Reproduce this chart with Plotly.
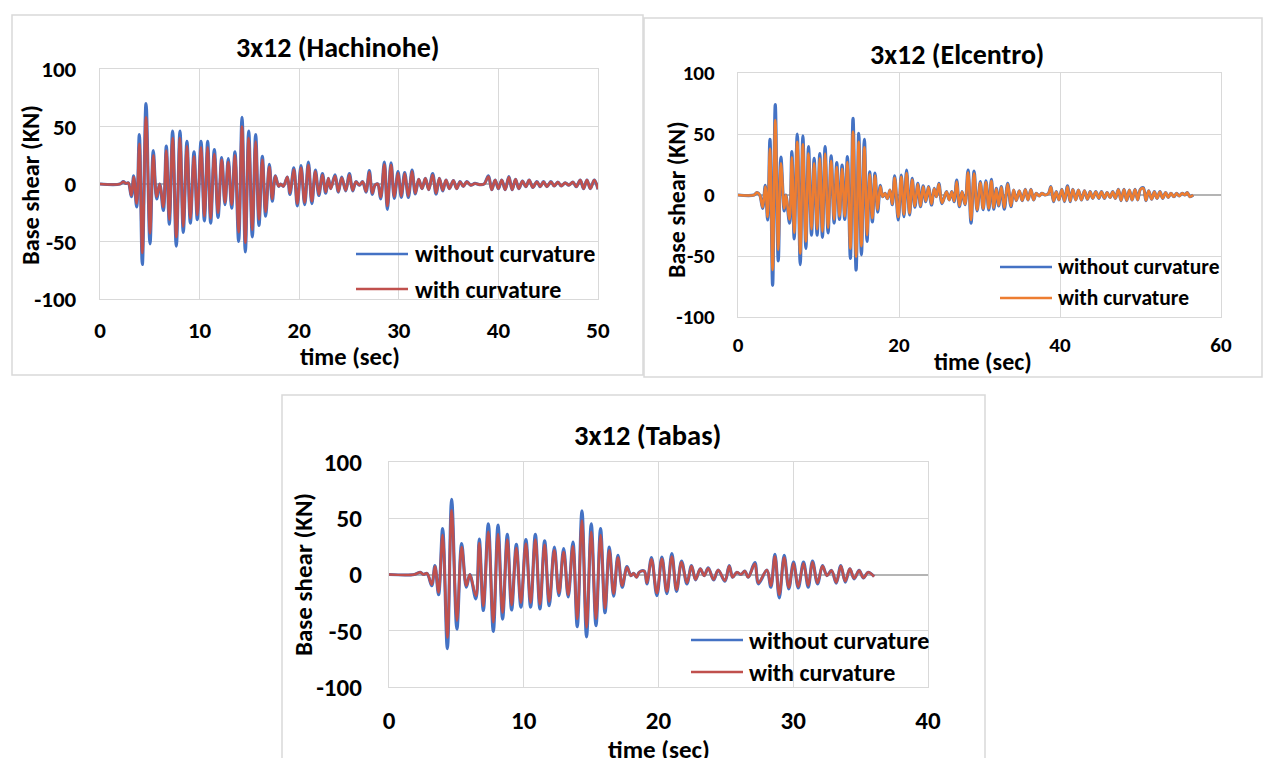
import plotly.graph_objects as go

W, H = 1263, 758

# ---- data (local peaks / troughs of each record) ----
hachinohe_time = [0, 2.0, 2.34, 2.6, 2.84, 3.15, 3.38, 3.68, 3.95, 4.25, 4.62, 5.02, 5.35, 5.69, 6.0,
                  6.36, 6.66, 6.96, 7.29, 7.66, 8.03, 8.36, 8.73, 9.07, 9.44, 9.77, 10.14, 10.48, 10.81,
                  11.11, 11.48, 11.85, 12.22, 12.55, 12.88, 13.22, 13.55, 13.92, 14.26, 14.59, 14.93,
                  15.29, 15.63, 15.96, 16.30, 16.63, 17.00, 17.30, 17.60, 17.94, 18.14, 18.41, 18.81,
                  19.07, 19.46, 19.81, 20.18, 20.55, 20.92, 21.27, 21.63, 21.97, 22.33, 22.66, 22.93,
                  23.16, 23.60, 23.93, 24.27, 24.67, 25.04, 25.37, 25.70, 26.04, 26.37, 26.71, 27.04,
                  27.34, 27.61, 27.88, 28.18, 28.55, 28.85, 29.22, 29.55, 29.92, 30.25, 30.59, 30.96,
                  31.33, 31.66, 32.00, 32.33, 32.67, 33.00, 33.40, 33.74, 34.07, 34.41, 34.74, 35.08,
                  35.48, 35.81, 36.15, 36.48, 36.82, 37.22, 37.65, 38.09, 38.56, 39.0, 39.33, 39.67,
                  40.00, 40.34, 40.68, 41.05, 41.38, 41.72, 42.05, 42.42, 42.76, 43.09, 43.46, 43.86,
                  44.20, 44.53, 44.87, 45.27, 45.60, 45.97, 46.31, 46.71, 47.08, 47.48, 47.82, 48.22,
                  48.55, 48.89, 49.23, 49.63, 50.0]
hachinohe_without = [0, 0, 2, 0.5, 1, -11, 7, -20, 43, -70, 70, -52, 29, -13, 0,
                     -23, 33, -35, 46, -54, 46, -42, 37, -34, 28, -31, 37, -32, 37,
                     -34, 30, -29, 23, -18, 22, -21, 28, -50, 58, -59, 46,
                     -46, 43, -36, 24, -28, 17, -15, 7, -2, 0, -2, 6,
                     -9, 14, -19, 16, -18, 19, -17, 12, -10, 9, -8, 5,
                     -4, 8, -7, 6, -6, 9, -6, 2, -1, 2, -7, 11.6,
                     -9, -1, 0, -13, 19, -22, 18.5, -12.5, 10.7, -11.6, 10, -11.6,
                     12, -8.7, 4, -4, 5, -5, 9, -8.7, 5, -6, 3.5, -4,
                     3, -4, 2, -2, 2, -1, 0.5, -0.5, 0, 7, -5, 3.5,
                     -4, 3.5, -5, 6.4, -5, 4, -4, 2.6, -2.3, 3.5, -3, 2,
                     -2.3, 2, -2.3, 2, -1.7, 1.7, -1.7, 1, -1, 1.7, -2.3, 3.5,
                     -4, 3.5, -4, 3.5, -4.6]
hachinohe_with = [0, 0, 2, 0.5, 1, -10, 6, -17, 35, -60, 58, -43, 25, -11, 0,
                  -20, 29, -31, 40, -46, 40, -37, 33, -30, 24, -27, 32, -28, 32,
                  -30, 26, -25, 21, -16, 19, -18, 25, -42, 50, -51, 40,
                  -40, 37, -31, 21, -24, 15, -13, 7, -2, 0, -2, 6,
                  -8, 12.5, -17, 14, -16, 16.5, -15, 11, -9, 8, -7, 5,
                  -4, 7, -6.5, 5.5, -5.5, 8, -5.5, 2, -1, 2, -6.5, 10.5,
                  -8, -1, 0, -11.5, 17, -19, 16.5, -11, 9.5, -10.5, 9, -10.5,
                  11, -8, 4, -4, 5, -5, 8, -8, 5, -5.5, 3.5, -4,
                  3, -4, 2, -2, 2, -1, 0.5, -0.5, 0, 6.5, -5, 3.5,
                  -4, 3.5, -5, 6, -5, 4, -4, 2.5, -2.3, 3.5, -3, 2,
                  -2.3, 2, -2.3, 2, -1.7, 1.7, -1.7, 1, -1, 1.7, -2.3, 3.5,
                  -4, 3.5, -4, 3.5, -4.5]

elcentro_time = [0, 2.0, 2.35, 2.7, 3.06, 3.39, 3.68, 3.97, 4.30, 4.63, 5.00, 5.33, 5.74, 5.95,
                 6.40, 6.69, 6.98, 7.36, 7.73, 8.06, 8.43, 8.76, 9.13, 9.46, 9.83, 10.16, 10.49,
                 10.82, 11.19, 11.57, 11.94, 12.27, 12.60, 12.93, 13.26, 13.59, 13.96, 14.29, 14.67,
                 15.00, 15.33, 15.70, 16.03, 16.36, 16.69, 17.02, 17.35, 17.68, 17.97, 18.26, 18.55,
                 18.88, 19.17, 19.46, 19.91, 20.28, 20.61, 20.94, 21.31, 21.64, 21.97, 22.34, 22.67,
                 23.00, 23.33, 23.66, 24.04, 24.37, 24.65, 24.95, 25.35, 25.9, 26.23, 26.56, 26.85,
                 27.17, 27.50, 27.83, 28.2, 28.58, 28.95, 29.33, 29.70, 30.1, 30.45, 30.8, 31.15,
                 31.48, 31.77, 32.09, 32.38, 32.71, 33.08, 33.50, 33.91, 34.24, 34.57, 34.94, 35.31,
                 35.69, 36.02, 36.39, 36.72, 37.05, 37.42, 37.75, 38.16, 38.58, 38.87, 39.20, 39.53,
                 39.86, 40.23, 40.56, 40.93, 41.26, 41.59, 41.96, 42.29, 42.67, 43.04, 43.41, 43.74,
                 44.07, 44.45, 44.82, 45.15, 45.52, 45.85, 46.22, 46.55, 46.88, 47.25, 47.58, 47.95,
                 48.28, 48.62, 48.95, 49.32, 49.65, 49.98, 50.35, 50.68, 51.01, 51.39, 51.72, 52.05,
                 52.42, 52.75, 53.12, 53.45, 53.78, 54.15, 54.48, 54.81, 55.18, 55.51, 55.80, 56.13,
                 56.54]
elcentro_without = [0, 0, 2, 0, -11, 8, -20.5, 45.6, -74, 74, -54, 31, -13, 0,
                    -23, 35.5, -36, 50, -57, 48.4, -43.7, 39.6, -33, 30, -33, 34, -34.7,
                    39.6, -31, 32, -23, 26.5, -20, 24.6, -20, 31.4, -52, 62.8, -61.5,
                    50.5, -49, 45.6, -38, 19, -22, 18, -14, 8, -1.4, 1.4, -3,
                    4, -8, 15.6, -20.5, 16.4, -17.8, 20.5, -16.4, 13.7, -10, 9.6, -9.6,
                    7.4, -5.5, 6.8, -8.2, 5.5, -1.4, 9.6, -7, 2.7, -4, 2.7, -5.5,
                    12.3, -9.6, 2.7, -8, 20.5, -23, 19.5, -13, 11, -12, 11.7, -12.3,
                    12.8, -11.7, 5.5, -9, 6.8, -11.7, 9.6, -9.6, 4, -4.6, 3.5, -4.6,
                    4.6, -4, 4.6, -4, 1.4, -0.8, 1.4, 0, 1.4, 6.8, -5.5, 2.7,
                    -4, 4.6, -5.5, 7.4, -5.5, 4.6, -4, 4, -4, 3.5, -3.5, 2.7,
                    -2.7, 2.7, -2.7, 2.7, -2.7, 2, -2, 2.7, -2.7, 4.6, -4.6, 4.6,
                    -4.6, 4, -4, 4.6, -4, 4.6, 6, -4.6, 3.5, -3.5, 2.7, -2.7,
                    2.7, -2.7, 2, -2, 1.4, -1.4, 1.4, -0.8, 1.4, 0, 2, -1.4,
                    0]
elcentro_with = [0, 0, 2, 0, -10, 7, -18, 38, -61.5, 61.5, -45, 26, -11, 0,
                 -20, 31, -31, 43.7, -48, 41.5, -38, 34, -28, 26, -28, 30, -30,
                 34, -27, 28, -20, 23, -17.5, 21.5, -17.5, 27, -44, 52, -50.5,
                 43.7, -42, 39, -33, 17, -19, 16, -12, 7, -1.4, 1.4, -3,
                 4, -7.5, 14, -18, 15, -16, 18, -15, 12.5, -9, 9, -9,
                 7, -5, 6.5, -7.5, 5, -1.4, 9, -6.5, 2.7, -4, 2.7, -5,
                 11, -9, 2.7, -7.5, 18.5, -20.5, 17.5, -12, 10, -11, 10.5, -11,
                 11.5, -10.5, 5, -8.5, 6.5, -10.5, 9, -9, 4, -4.5, 3.5, -4.5,
                 4.5, -4, 4.5, -4, 1.4, -0.8, 1.4, 0, 1.4, 6.5, -5, 2.7,
                 -4, 4.5, -5, 7, -5, 4.5, -4, 4, -4, 3.5, -3.5, 2.7,
                 -2.7, 2.7, -2.7, 2.7, -2.7, 2, -2, 2.7, -2.7, 4.5, -4.5, 4.5,
                 -4.5, 4, -4, 4.5, -4, 4.5, 5.5, -4.5, 3.5, -3.5, 2.7, -2.7,
                 2.7, -2.7, 2, -2, 1.4, -1.4, 1.4, -0.8, 1.4, 0, 2, -1.4,
                 0]

tabas_time = [0, 1.88, 2.32, 2.55, 2.82, 3.17, 3.41, 3.68, 3.98, 4.33, 4.65, 5.04, 5.39, 5.74,
              6.0, 6.45, 6.70, 7.00, 7.37, 7.74, 8.09, 8.43, 8.78, 9.10, 9.45, 9.79, 10.16,
              10.51, 10.86, 11.20, 11.55, 11.89, 12.27, 12.61, 12.96, 13.30, 13.65, 13.97, 14.32,
              14.66, 15.01, 15.36, 15.70, 16.03, 16.35, 16.67, 16.99, 17.31, 17.66, 17.95, 18.15,
              18.37, 18.57, 18.94, 19.14, 19.48, 19.88, 20.25, 20.62, 20.99, 21.34, 21.71, 22.11,
              22.45, 22.75, 23.10, 23.39, 23.69, 24.09, 24.43, 24.93, 25.25, 25.50, 25.82, 26.11,
              26.41, 26.66, 27.15, 27.42, 28.04, 28.34, 28.64, 28.96, 29.33, 29.67, 30.02, 30.37,
              30.76, 31.11, 31.43, 31.80, 32.17, 32.50, 32.84, 33.19, 33.53, 33.86, 34.20, 34.52,
              34.89, 35.21, 35.56, 36.0]
tabas_without = [0, 0, 2, 0, 1, -10, 8, -18, 40.8, -66, 66.7, -48.5, 27.4, -11.3,
                 0, -21.7, 31.5, -32, 45, -50.6, 43.8, -39.6, 35.7, -31.5, 26.8, -29, 31,
                 -29, 35.7, -30.6, 30, -27.7, 24.4, -18.8, 23, -20, 28.9, -46.4, 56.5,
                 -55.4, 45, -45.5, 40.8, -34, 24.4, -19.3, 17, -11.3, 7, -1, 1,
                 -2.4, 2, 3, -8.3, 15, -18.8, 15.5, -17, 18.5, -15, 12, -8.3,
                 8, -4.8, 5, -1, 6, -4.8, 4, -6, 8, -2.4, 2, 0,
                 3, -2.4, 10.5, -8.3, 4, -11.3, 17.9, -20.8, 17, -12.8, 11, -12,
                 11, -11.3, 12, -8.3, 8, -1, 3.6, -7.7, 8, -6.8, 5, -3.9,
                 3.6, -3, 2, -1.8]
tabas_with = [0, 0, 2, 0, 1, -9, 7, -16, 35, -56, 57, -41, 24.5, -10,
              0, -19, 28, -28, 38, -42.5, 36, -34, 31, -27, 23.5, -25, 27.5,
              -25, 31, -26.5, 26.5, -24, 21.5, -16.5, 20, -18, 25, -39.6, 48,
              -47, 38, -39.6, 35, -30, 21.5, -17, 15, -10, 6.5, -1, 1,
              -2.4, 2, 3, -7.5, 13.5, -16.5, 14, -15, 16, -13.5, 11, -7.5,
              7.5, -4.5, 5, -1, 5.5, -4.5, 4, -5.5, 7.5, -2.4, 2, 0,
              3, -2.4, 9.5, -7.5, 4, -10, 16, -18, 15, -11.5, 10, -11,
              10, -10, 11, -7.5, 7.5, -1, 3.5, -7, 7.5, -6, 5, -3.5,
              3.5, -3, 2, -1.8]

y_ticks = [-100, -50, 0, 50, 100]
y_tick_labels = ["-100", "-50", "0", "50", "100"]
series_names = ["without curvature", "with curvature"]

BLUE = "#4472C4"
RED = "#C0504D"
ORANGE = "#ED7D31"
GRID = "#d9d9d9"
FONT = "Calibri, Carlito, Lato, sans-serif"


def fx(x):
    return x / W


def fy(y):
    return 1 - y / H


panels = [
    dict(time=hachinohe_time, without=hachinohe_without, with_=hachinohe_with, color=RED,
         title="3x12 (Hachinohe)", xmax=50, dtick=10, box=(12, 15, 643, 375),
         plot=(100, 69, 598, 299), title_xy=(338, 47), xtitle_xy=(350, 357), ytitle_xy=(31, 185),
         legend=(356, 408, 413, 254, 289), tick_size=23, title_size=28, label_size=24.5,
         legend_size=24, xstand=10, ystand=18),
    dict(time=elcentro_time, without=elcentro_without, with_=elcentro_with, color=ORANGE,
         title="3x12 (Elcentro)", xmax=60, dtick=20, box=(644, 18, 1262, 377),
         plot=(738, 73, 1221, 317), title_xy=(957, 55), xtitle_xy=(983, 361), ytitle_xy=(677, 200),
         legend=(1000, 1052, 1056, 267, 298), tick_size=21, title_size=28, label_size=24,
         legend_size=21.5, xstand=9, ystand=18),
    dict(time=tabas_time, without=tabas_without, with_=tabas_with, color=RED,
         title="3x12 (Tabas)", xmax=40, dtick=10, box=(282, 395, 985, 762),
         plot=(389, 462, 928, 687), title_xy=(647, 435), xtitle_xy=(659, 749), ytitle_xy=(303, 575),
         legend=(691, 743, 747, 640, 672), tick_size=25, title_size=28.5, label_size=25,
         legend_size=24, xstand=11, ystand=21),
]

fig = go.Figure()
shapes = []
annotations = []

for i, p in enumerate(panels, start=1):
    sfx = "" if i == 1 else str(i)
    xa, ya = "x" + sfx, "y" + sfx

    fig.add_trace(go.Scatter(x=p["time"], y=p["without"], name=series_names[0], mode="lines",
                             line=dict(color=BLUE, width=3.2, shape="spline", smoothing=1.0),
                             xaxis=xa, yaxis=ya, showlegend=False))
    fig.add_trace(go.Scatter(x=p["time"], y=p["with_"], name=series_names[1], mode="lines",
                             line=dict(color=p["color"], width=2.6, shape="spline", smoothing=1.0),
                             xaxis=xa, yaxis=ya, showlegend=False))

    x0, y0, x1, y1 = p["plot"]
    axis_common = dict(showgrid=True, gridcolor=GRID, gridwidth=1.3, showline=True, mirror=True,
                       linecolor=GRID, linewidth=1.3, ticks="", fixedrange=True,
                       automargin=False)
    fig.update_layout({
        "xaxis" + sfx: dict(axis_common, domain=[fx(x0), fx(x1)], anchor=ya, range=[0, p["xmax"]],
                            tick0=0, dtick=p["dtick"], zeroline=False,
                            ticklabelstandoff=p["xstand"],
                            tickfont=dict(family=FONT, size=p["tick_size"], color="black",
                                          weight="bold")),
        "yaxis" + sfx: dict(axis_common, domain=[fy(y1), fy(y0)], anchor=xa, range=[-100, 100],
                            tickvals=y_ticks, ticktext=y_tick_labels, zeroline=True,
                            zerolinecolor="#b4b4b4", zerolinewidth=1.6,
                            ticklabelstandoff=p["ystand"],
                            tickfont=dict(family=FONT, size=p["tick_size"], color="black",
                                          weight="bold")),
    })

    # chart frame
    bx0, by0, bx1, by1 = p["box"]
    shapes.append(dict(type="rect", xref="paper", yref="paper", x0=fx(bx0), x1=fx(bx1),
                       y0=fy(by1), y1=fy(by0), line=dict(color=GRID, width=1.5), layer="below"))

    # titles
    tx, ty = p["title_xy"]
    annotations.append(dict(text=p["title"], x=fx(tx), y=fy(ty), xref="paper", yref="paper",
                            showarrow=False, xanchor="center", yanchor="middle",
                            font=dict(family=FONT, size=p["title_size"], color="black",
                                      weight="bold")))
    tx, ty = p["xtitle_xy"]
    annotations.append(dict(text="time (sec)", x=fx(tx), y=fy(ty), xref="paper", yref="paper",
                            showarrow=False, xanchor="center", yanchor="middle",
                            font=dict(family=FONT, size=p["label_size"], color="black",
                                      weight="bold")))
    tx, ty = p["ytitle_xy"]
    annotations.append(dict(text="Base shear (KN)", x=fx(tx), y=fy(ty), xref="paper",
                            yref="paper", showarrow=False, textangle=-90, xanchor="center",
                            yanchor="middle",
                            font=dict(family=FONT, size=p["label_size"], color="black",
                                      weight="bold")))

    # legend block
    lx0, lx1, ltx, ly_a, ly_b = p["legend"]
    for ly, col, name in [(ly_a, BLUE, series_names[0]), (ly_b, p["color"], series_names[1])]:
        shapes.append(dict(type="line", xref="paper", yref="paper", x0=fx(lx0), x1=fx(lx1),
                           y0=fy(ly), y1=fy(ly), line=dict(color=col, width=2.6)))
        annotations.append(dict(text=name, x=fx(ltx), y=fy(ly), xref="paper", yref="paper",
                                showarrow=False, xanchor="left", yanchor="middle",
                                font=dict(family=FONT, size=p["legend_size"], color="black",
                                          weight="bold")))

fig.update_layout(
    width=W,
    height=H,
    autosize=False,
    margin=dict(l=0, r=0, t=0, b=0, pad=0, autoexpand=False),
    paper_bgcolor="white",
    plot_bgcolor="white",
    showlegend=False,
    shapes=shapes,
    annotations=annotations,
)

# drop the browser's default body margin so the figure sits at the page origin
fig.write_html(
    "out.html",
    config={"displayModeBar": False},
    post_script="document.body.style.margin='0';"
                "document.documentElement.style.overflow='hidden';",
)
